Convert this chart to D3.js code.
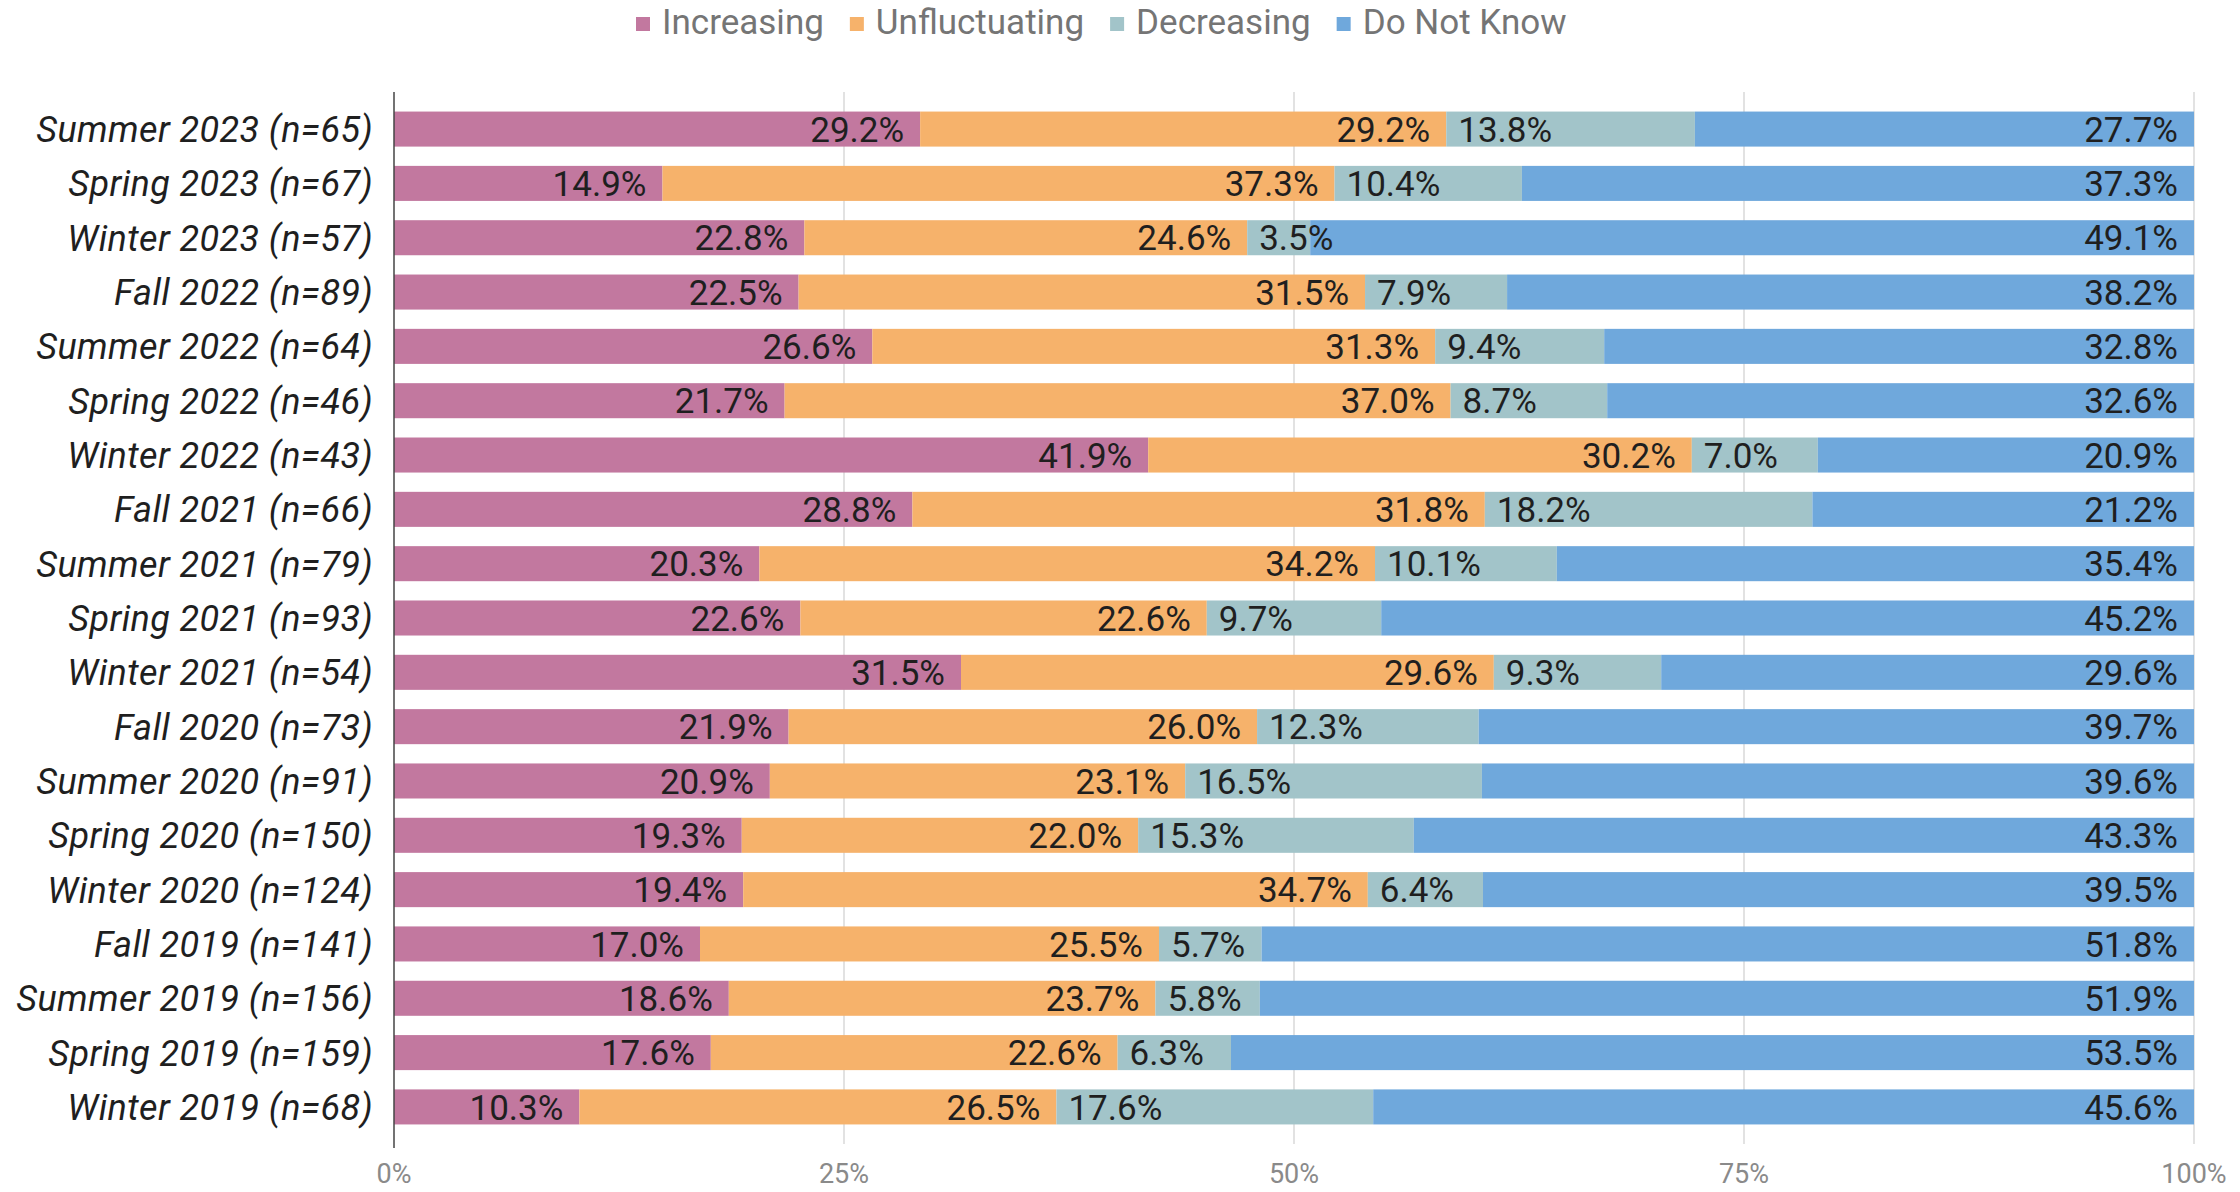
<!DOCTYPE html>
<html>
<head>
<meta charset="utf-8">
<script src="https://cdn.jsdelivr.net/npm/d3@7"></script>
<style>
  body { margin: 0; background: #fff; }
  text { font-family: Roboto, "Noto Sans", sans-serif; }
</style>
</head>
<body>
<div id="chart"></div>
<script>
const categories = [
  'Summer 2023 (n=65)', 'Spring 2023 (n=67)', 'Winter 2023 (n=57)', 'Fall 2022 (n=89)',
  'Summer 2022 (n=64)', 'Spring 2022 (n=46)', 'Winter 2022 (n=43)', 'Fall 2021 (n=66)',
  'Summer 2021 (n=79)', 'Spring 2021 (n=93)', 'Winter 2021 (n=54)', 'Fall 2020 (n=73)',
  'Summer 2020 (n=91)', 'Spring 2020 (n=150)', 'Winter 2020 (n=124)', 'Fall 2019 (n=141)',
  'Summer 2019 (n=156)', 'Spring 2019 (n=159)', 'Winter 2019 (n=68)'
];
const seriesNames = ['Increasing', 'Unfluctuating', 'Decreasing', 'Do Not Know'];
const increasing = [29.2, 14.9, 22.8, 22.5, 26.6, 21.7, 41.9, 28.8, 20.3, 22.6, 31.5, 21.9, 20.9, 19.3, 19.4, 17.0, 18.6, 17.6, 10.3];
const unfluctuating = [29.2, 37.3, 24.6, 31.5, 31.3, 37.0, 30.2, 31.8, 34.2, 22.6, 29.6, 26.0, 23.1, 22.0, 34.7, 25.5, 23.7, 22.6, 26.5];
const decreasing = [13.8, 10.4, 3.5, 7.9, 9.4, 8.7, 7.0, 18.2, 10.1, 9.7, 9.3, 12.3, 16.5, 15.3, 6.4, 5.7, 5.8, 6.3, 17.6];
const doNotKnow = [27.7, 37.3, 49.1, 38.2, 32.8, 32.6, 20.9, 21.2, 35.4, 45.2, 29.6, 39.7, 39.6, 43.3, 39.5, 51.8, 51.9, 53.5, 45.6];
const xTicks = [0, 0.25, 0.5, 0.75, 1];
const colors = ['#c2789f', '#f6b26b', '#a2c4c9', '#6fa8dc'];

const width = 2240;
const height = 1192;
const margin = { top: 92, right: 46, bottom: 48, left: 394 };

const rows = categories.map((c, i) => ({
  label: c,
  Increasing: increasing[i],
  Unfluctuating: unfluctuating[i],
  Decreasing: decreasing[i],
  'Do Not Know': doNotKnow[i]
}));

const stacked = d3.stack()
  .keys(seriesNames)
  .offset(d3.stackOffsetExpand)(rows);

const svg = d3.select('#chart')
  .append('svg')
  .attr('width', width)
  .attr('height', height);

const x = d3.scaleLinear()
  .domain([0, 1])
  .range([margin.left, width - margin.right]);

const y = d3.scaleBand()
  .domain(categories)
  .range([margin.top, height - margin.bottom])
  .paddingInner(0.355)
  .paddingOuter(0.36);

const color = d3.scaleOrdinal().domain(seriesNames).range(colors);

// gridlines
svg.append('g')
  .selectAll('line')
  .data(xTicks.slice(1))
  .enter()
  .append('line')
  .attr('x1', d => x(d))
  .attr('x2', d => x(d))
  .attr('y1', margin.top)
  .attr('y2', height - margin.bottom)
  .style('stroke', '#d9d9d9')
  .style('stroke-width', 1.5);

// bars
const layer = svg.append('g')
  .selectAll('g')
  .data(stacked)
  .enter()
  .append('g')
  .style('fill', d => color(d.key));

layer.selectAll('rect')
  .data(d => d)
  .enter()
  .append('rect')
  .attr('x', d => x(d[0]))
  .attr('y', d => y(d.data.label))
  .attr('width', d => x(d[1]) - x(d[0]))
  .attr('height', y.bandwidth());

// value labels
stacked.forEach(s => {
  const startAligned = s.key === 'Decreasing';
  svg.append('g')
    .selectAll('text')
    .data(s)
    .enter()
    .append('text')
    .attr('x', d => startAligned ? x(d[0]) + 12 : x(d[1]) - 16)
    .attr('y', d => y(d.data.label) + y.bandwidth() / 2)
    .attr('dy', '0.36em')
    .attr('text-anchor', startAligned ? 'start' : 'end')
    .text(d => d.data[s.key].toFixed(1) + '%')
    .style('font-size', '35px')
    .style('fill', '#1f1f1f');
});

// zero axis line
svg.append('line')
  .attr('x1', x(0))
  .attr('x2', x(0))
  .attr('y1', margin.top)
  .attr('y2', height - margin.bottom + 4)
  .style('stroke', '#444')
  .style('stroke-width', 1.5);

// category labels
svg.append('g')
  .selectAll('text')
  .data(categories)
  .enter()
  .append('text')
  .attr('x', margin.left - 21)
  .attr('y', d => y(d) + y.bandwidth() / 2)
  .attr('dy', '0.36em')
  .attr('text-anchor', 'end')
  .text(d => d)
  .style('font-size', '36px')
  .style('letter-spacing', '0.4px')
  .style('font-style', 'italic')
  .style('fill', '#1f1f1f');

// x tick labels
svg.append('g')
  .selectAll('text')
  .data(xTicks)
  .enter()
  .append('text')
  .attr('x', d => x(d))
  .attr('y', 1183)
  .attr('text-anchor', 'middle')
  .text(d3.format('.0%'))
  .style('font-size', '27px')
  .style('fill', '#8a8a8a');

// legend
const legend = svg.append('g');
let lx = 636;
seriesNames.forEach((name, i) => {
  legend.append('rect')
    .attr('x', lx)
    .attr('y', 17)
    .attr('width', 14)
    .attr('height', 14)
    .style('fill', colors[i]);
  const t = legend.append('text')
    .attr('x', lx + 26)
    .attr('y', 34)
    .text(name)
    .style('font-size', '35px')
    .style('fill', '#757575');
  lx += 26 + t.node().getComputedTextLength() + 26;
});
</script>
</body>
</html>
